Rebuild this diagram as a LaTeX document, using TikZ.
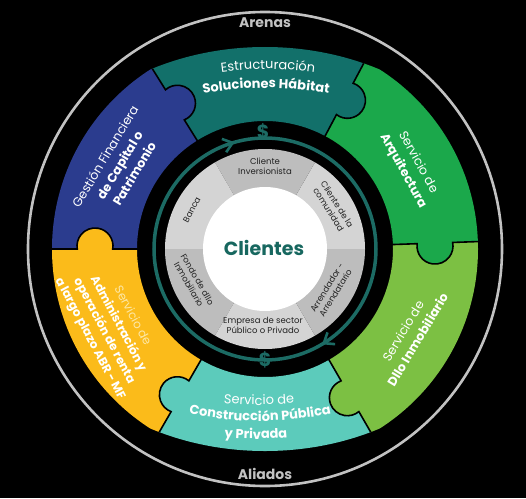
\documentclass[tikz,border=0pt]{standalone}
\usepackage{fontspec}
\setmainfont{Poppins}
\usetikzlibrary{decorations.text}
\definecolor{pTeal}{HTML}{12706A}
\definecolor{pBlue}{HTML}{2B3C8E}
\definecolor{pGreen}{HTML}{1BA84B}
\definecolor{pLGreen}{HTML}{7CC043}
\definecolor{pBTeal}{HTML}{5CCBBB}
\definecolor{pYellow}{HTML}{FBBB1A}
\definecolor{ringTeal}{HTML}{1C6B64}
\definecolor{segDark}{HTML}{BDBDBD}
\definecolor{segLight}{HTML}{D4D4D4}
\definecolor{outerGray}{HTML}{C2C2C2}
\definecolor{cliTeal}{HTML}{17675F}
\definecolor{paleYellow}{HTML}{FDE7A6}
\definecolor{segText}{HTML}{222222}
\tikzset{
  piecelabel/.style={text=white, align=center, font=\fontsize{12.5}{17}\selectfont, inner sep=0pt},
  seglabel/.style={text=segText, align=center, font=\fontsize{8.5}{10}\selectfont, inner sep=0pt},
  seam/.style={black, line width=1.6pt},
  arenalabel/.style={text=outerGray, font=\bfseries\fontsize{14}{14}\selectfont, inner sep=0pt},
  chevron/.style={ringTeal, line width=2.6pt, line join=miter},
  dollar/.style={text=ringTeal, font=\bfseries\fontsize{19}{19}\selectfont, inner sep=0pt}
}
\begin{document}
\begin{tikzpicture}[x=1pt,y=1pt]
\fill[black] (-265,-249) rectangle (261,249);
\useasboundingbox (-265,-249) rectangle (261,249);
\draw[outerGray, line width=2.6pt] (0,0) circle (237);
\node[arenalabel] (arenas) at (0,226) {Arenas};
\node[arenalabel] (aliados) at (0,-225) {Aliados};

% puzzle ring
\begin{scope}
  \clip (0,0) circle (213);
  \clip (0,0) ellipse (250 and 202);
  \foreach \a/\b/\c in {2/62/pGreen,62/122/pTeal,122/180/pBlue,180/240/pYellow,240/300/pBTeal,300/362/pLGreen}{
    \fill[\c] (\a:128) arc[start angle=\a,end angle=\b,radius=128] -- (\b:216) arc[start angle=\b,end angle=\a,radius=216] -- cycle;
  }
  \foreach \t/\c in {2/pGreen,62/pTeal,122/pBlue,180/pYellow,240/pBTeal,300/pLGreen}{
    \begin{scope}[rotate=\t]
      \fill[\c] (170,-3) circle (18);
      \draw[seam] (126,0) -- (152.25,0) arc[start angle=170.4,end angle=369.6,radius=18] -- (218,0);
    \end{scope}
  }
\end{scope}

% teal ring with arrows and dollar signs
\draw[ringTeal, line width=3.5pt] (0,0) circle (111);
\begin{scope}[rotate=108]
  \draw[chevron] (104,7) -- (111,-2) -- (118,7);
\end{scope}
\begin{scope}[rotate=-57]
  \draw[chevron] (104,7) -- (111,-2) -- (118,7);
\end{scope}
\node[dollar] (dollartop) at (-2,117) {\$};
\node[dollar] (dollarbottom) at (0,-111) {\$};

% client segments
\foreach \a/\b/\c in {0/60/segLight,60/120/segDark,120/180/segLight,180/240/segDark,240/300/segLight,300/360/segDark}{
  \fill[\c] (0,0) -- (\a:100) arc[start angle=\a,end angle=\b,radius=100] -- cycle;
}
\fill[white] (0,0) circle (62);
\node[text=cliTeal, font=\bfseries\fontsize{19}{19}\selectfont, inner sep=0pt] (clientes) at (-1,1) {Clientes};

\node[seglabel] (inversionista) at (0,83) {Cliente\\Inversionista};
\node[seglabel, rotate=-58] (comunidad) at (31.7:80) {Cliente de la\\comunidad};
\node[seglabel, rotate=58] (arrendador) at (-32:78) {Arrendador -\\Arrendatario};
\node[seglabel] (empresa) at (-2,-76) {Empresa de sector\\Público o Privado};
\node[seglabel, rotate=-60] (fondo) at (204.6:79) {Fondo de dllo\\Inmobiliario};
\node[seglabel, rotate=62] (banca) at (152:83) {Banca};

% top piece text (curved)
\path[decorate,decoration={text along path,text align=center,
  text={|\color{white}\fontsize{13}{13}\selectfont|Estructuración}}]
  ([shift={(3,-170)}]110:350) arc[start angle=110,end angle=70,radius=350];
\path[decorate,decoration={text along path,text align=center,
  text={|\color{white}\bfseries\fontsize{13}{13}\selectfont|Soluciones Hábitat}}]
  ([shift={(1,-189)}]110:350) arc[start angle=110,end angle=70,radius=350];

% bottom piece text (curved)
\path[decorate,decoration={text along path,text align=center,
  text={|\color{white}\fontsize{13}{13}\selectfont|Servicio de}}]
  ([shift={(-6,194)}]250:350) arc[start angle=250,end angle=290,radius=350];
\path[decorate,decoration={text along path,text align=center,
  text={|\color{white}\bfseries\fontsize{13}{13}\selectfont|Construcción Pública}}]
  ([shift={(-5,178)}]250:350) arc[start angle=250,end angle=290,radius=350];
\path[decorate,decoration={text along path,text align=center,
  text={|\color{white}\bfseries\fontsize{13}{13}\selectfont|y Privada}}]
  ([shift={(-9,160)}]250:350) arc[start angle=250,end angle=290,radius=350];

% side pieces
\node[piecelabel, rotate=59] (gestion) at (150:168) {Gestión Financiera\\\textbf{de Capital o}\\\textbf{Patrimonio}};
\node[piecelabel, rotate=-61] (arquitectura) at (29.5:167) {Servicio de\\\textbf{Arquitectura}};
\node[piecelabel, rotate=59] (dllo) at (-30.7:169) {Servicio de\\\textbf{Dllo Inmobiliario}};
\node[piecelabel, rotate=-62, font=\fontsize{12}{16}\selectfont] (admin) at (207:173) {\textcolor{paleYellow}{Servicio de}\\\textbf{Administración y}\\\textbf{operación de renta}\\\textbf{a largo plazo ABR - MF}};
\end{tikzpicture}
\end{document}
